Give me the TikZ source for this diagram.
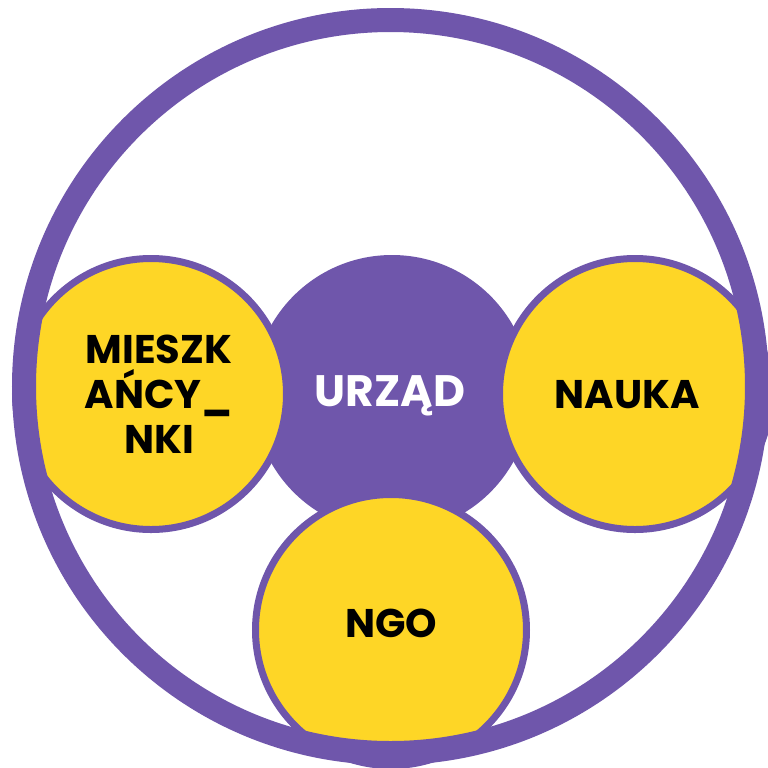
\documentclass[tikz,border=0pt]{standalone}
\usepackage{fontspec}
\setmainfont{Poppins}
\usetikzlibrary{positioning}
\definecolor{fiolet}{RGB}{111,86,171}
\definecolor{zolty}{RGB}{254,214,38}

\begin{document}
\begin{tikzpicture}[x=0.5pt,y=-0.5pt,
    srodek/.style={circle,fill=fiolet,minimum size=139pt,inner sep=0pt,outer sep=0pt},
    partner/.style={circle,fill=zolty,draw=fiolet,line width=3.5pt,minimum size=135.5pt,inner sep=0pt,outer sep=0pt},
    napis/.style={font=\fontsize{20}{22.5}\selectfont\bfseries,align=center,inner sep=0pt}]
        \useasboundingbox[fill=white] (0,0) rectangle (768,768);
        % srodek
        \node[srodek](urzad) at (392,394){};
        % partnerzy
        \node[partner](mieszk) at (151,394){};
        \node[partner](nauka) at (635,394){};
        \node[partner](ngo) at (391,630){};
        % obwodka
        \node[circle,draw=fiolet,line width=12pt,minimum size=366.5pt,inner sep=0pt](ring) at (390.5,386.5){};
        %
        \node[napis,text=white,font=\fontsize{22}{24}\selectfont\bfseries] at ([xshift=-1pt,yshift=-1pt]urzad){URZĄD};
        \node[napis] at ([xshift=4pt]mieszk){MIESZK\\AŃCY\_\\NKI};
        \node[napis] at ([xshift=-4pt,yshift=-0.5pt]nauka){NAUKA};
        \node[napis] at ([yshift=3.5pt]ngo){NGO};
\end{tikzpicture}
\end{document}
